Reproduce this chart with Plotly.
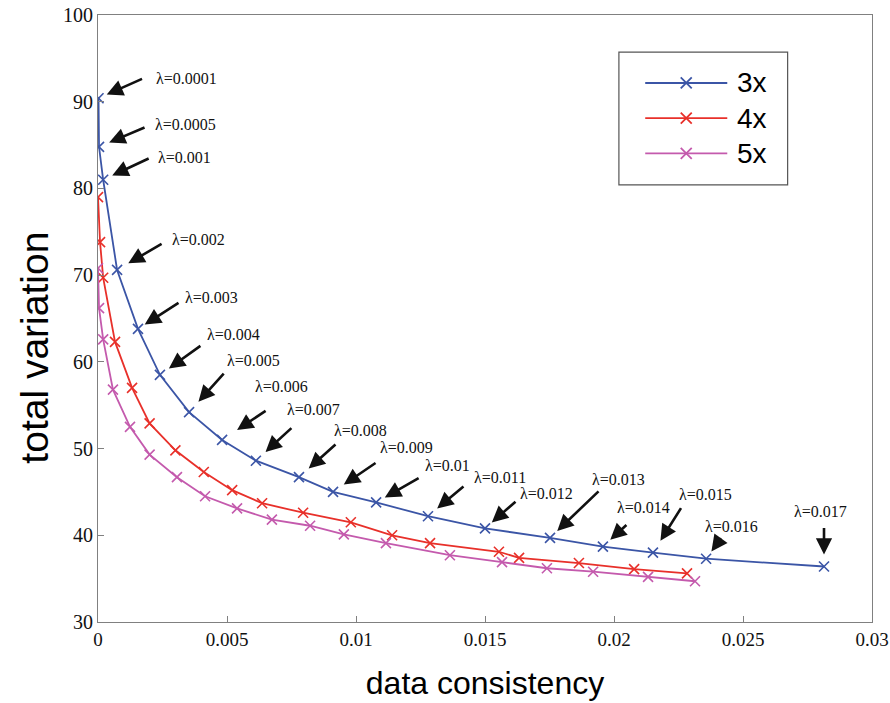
import plotly.graph_objects as go

# ---- data ----
lambdas = ["0.0001", "0.0005", "0.001", "0.002", "0.003", "0.004", "0.005", "0.006",
           "0.007", "0.008", "0.009", "0.01", "0.011", "0.012", "0.013", "0.014",
           "0.015", "0.016", "0.017"]

x_3x = [0.00002, 0.00004, 0.0002, 0.00074, 0.00155, 0.0024, 0.00353, 0.00481, 0.00612,
        0.00779, 0.00911, 0.01078, 0.01279, 0.0150, 0.01752, 0.01957, 0.02151, 0.02357, 0.02814]
y_3x = [90.4, 84.8, 81.0, 70.6, 63.8, 58.5, 54.2, 51.0, 48.6, 46.7, 45.0, 43.8, 42.2,
        40.8, 39.7, 38.7, 38.0, 37.3, 36.4]

x_4x = [0.0, 0.00008, 0.0002, 0.00066, 0.00132, 0.0020, 0.0030, 0.0041, 0.0052, 0.00636,
        0.00795, 0.0098, 0.0114, 0.01287, 0.01554, 0.01632, 0.01864, 0.02078, 0.02283]
y_4x = [79.0, 73.8, 69.7, 62.3, 57.0, 52.9, 49.8, 47.3, 45.2, 43.7, 42.6, 41.5, 40.0,
        39.1, 38.1, 37.4, 36.8, 36.1, 35.6]

x_5x = [0.0, 0.00004, 0.0002, 0.00058, 0.00124, 0.0020, 0.00306, 0.00415, 0.00539, 0.00674,
        0.00822, 0.00953, 0.01116, 0.01364, 0.01566, 0.0174, 0.01919, 0.02132, 0.02314]
y_5x = [70.8, 66.2, 62.6, 56.8, 52.5, 49.3, 46.7, 44.5, 43.1, 41.8, 41.1, 40.1, 39.1,
        37.7, 36.9, 36.2, 35.8, 35.2, 34.7]

series_names = ["3x", "4x", "5x"]
x_ticks = [0, 0.005, 0.01, 0.015, 0.02, 0.025, 0.03]
x_tick_text = ["0", "0.005", "0.01", "0.015", "0.02", "0.025", "0.03"]
y_ticks = [30, 40, 50, 60, 70, 80, 90, 100]
x_title = "data consistency"
y_title = "total variation"

# ---- styling (pixel offsets for arrows / labels) ----
arrow_ax = [45, 47, 47, 46, 42, 42, 36, 45, 37, 38, 44, 44, 37, 32, 50, 25, 29, 16, 0]
arrow_ay = [-20, -20, -22, -27, -27, -30, -40, -30, -34, -34, -30, -25, -31, -28, -48, -23, -46, -22, -40]
arrow_standoff = [9, 11, 10, 13, 8, 11, 14, 18, 13, 13, 13, 10, 12, 9, 10, 10, 14, 9, 12]
label_dx = [55, 54, 53, 53, 45, 45, 36, 31, 29, 33, 45, 47, 44, 33, 40, 12, 24, -3, -32]
label_dy = [20, 22, 22, 30, 31, 40, 52, 53, 51, 47, 44, 37, 39, 35, 58, 39, 58, 32, 55]

colors = ["#3b55a6", "#e8302a", "#c45aad"]
serif = "Liberation Serif, Times New Roman, serif"
sans = "Liberation Sans, Arial, sans-serif"

fig = go.Figure()
for xs, ys, name, c in zip([x_3x, x_4x, x_5x], [y_3x, y_4x, y_5x], series_names, colors):
    fig.add_trace(go.Scatter(
        x=xs, y=ys, mode="lines+markers", name=name,
        line=dict(color=c, width=1.8),
        marker=dict(symbol="x-thin", size=10, line=dict(color=c, width=1.6)),
        showlegend=False,
    ))

# custom legend (overlay axes in 0..1 space)
leg_y = [0.888, 0.830, 0.772]
fig.add_trace(go.Scatter(
    x=[0.760] * 3, y=leg_y, mode="markers", xaxis="x2", yaxis="y2",
    marker=dict(symbol="x-thin", size=11, color=colors, line=dict(color=colors, width=1.8)),
    showlegend=False, hoverinfo="skip",
))
shapes = [dict(type="rect", xref="paper", yref="paper", x0=0.673, x1=0.891, y0=0.720, y1=0.939,
               line=dict(color="#555555", width=1.2), fillcolor="white", layer="below")]
for yy, c in zip(leg_y, colors):
    shapes.append(dict(type="line", xref="paper", yref="paper", x0=0.707, x1=0.813, y0=yy, y1=yy,
                       line=dict(color=c, width=1.8)))

annotations = []
for yy, name in zip(leg_y, series_names):
    annotations.append(dict(xref="paper", yref="paper", x=0.823, y=yy, text=name, showarrow=False,
                            xanchor="left", yanchor="middle", font=dict(family=sans, size=28, color="black")))

# y-axis title as rotated annotation
annotations.append(dict(xref="paper", yref="paper", x=-0.0814, y=0.452, text=y_title, showarrow=False,
                        textangle=-90, xanchor="center", yanchor="middle",
                        font=dict(family=sans, size=39, color="black")))

for i, lab in enumerate(lambdas):
    annotations.append(dict(
        x=x_3x[i], y=y_3x[i], xref="x", yref="y", text="", showarrow=True,
        ax=arrow_ax[i], ay=arrow_ay[i], axref="pixel", ayref="pixel",
        arrowhead=2, arrowsize=1.25, arrowwidth=2.6, arrowcolor="#111111",
        standoff=arrow_standoff[i],
    ))
    annotations.append(dict(
        x=x_3x[i], y=y_3x[i], xref="x", yref="y", text="λ=" + lab, showarrow=False,
        xanchor="left", yanchor="middle", xshift=label_dx[i], yshift=label_dy[i],
        font=dict(family=serif, size=16, color="#111111"),
    ))

axis_common = dict(
    showline=True, linecolor="#808080", linewidth=1.2, mirror=True, automargin=False,
    ticks="inside", ticklen=6, tickcolor="#808080", showgrid=False, zeroline=False,
)

fig.update_layout(
    width=890, height=703,
    margin=dict(l=98, r=18, t=15, b=81, autoexpand=False),
    plot_bgcolor="white", paper_bgcolor="white",
    xaxis=dict(range=[0, 0.03], tickvals=x_ticks, ticktext=x_tick_text,
               tickfont=dict(family=serif, size=19, color="#111111"),
               title=dict(text=x_title, font=dict(family=sans, size=32, color="black"), standoff=22),
               **axis_common),
    yaxis=dict(range=[30, 100], tickvals=y_ticks,
               tickfont=dict(family=serif, size=20, color="#111111"),
               **axis_common),
    xaxis2=dict(range=[0, 1], overlaying="x", visible=False, fixedrange=True),
    yaxis2=dict(range=[0, 1], overlaying="y", visible=False, fixedrange=True),
    shapes=shapes,
    annotations=annotations,
    showlegend=False,
)

fig.write_html(
    "out.html",
    config={"displayModeBar": False},
    post_script="document.body.style.margin='0px';document.body.style.overflow='hidden';",
)
